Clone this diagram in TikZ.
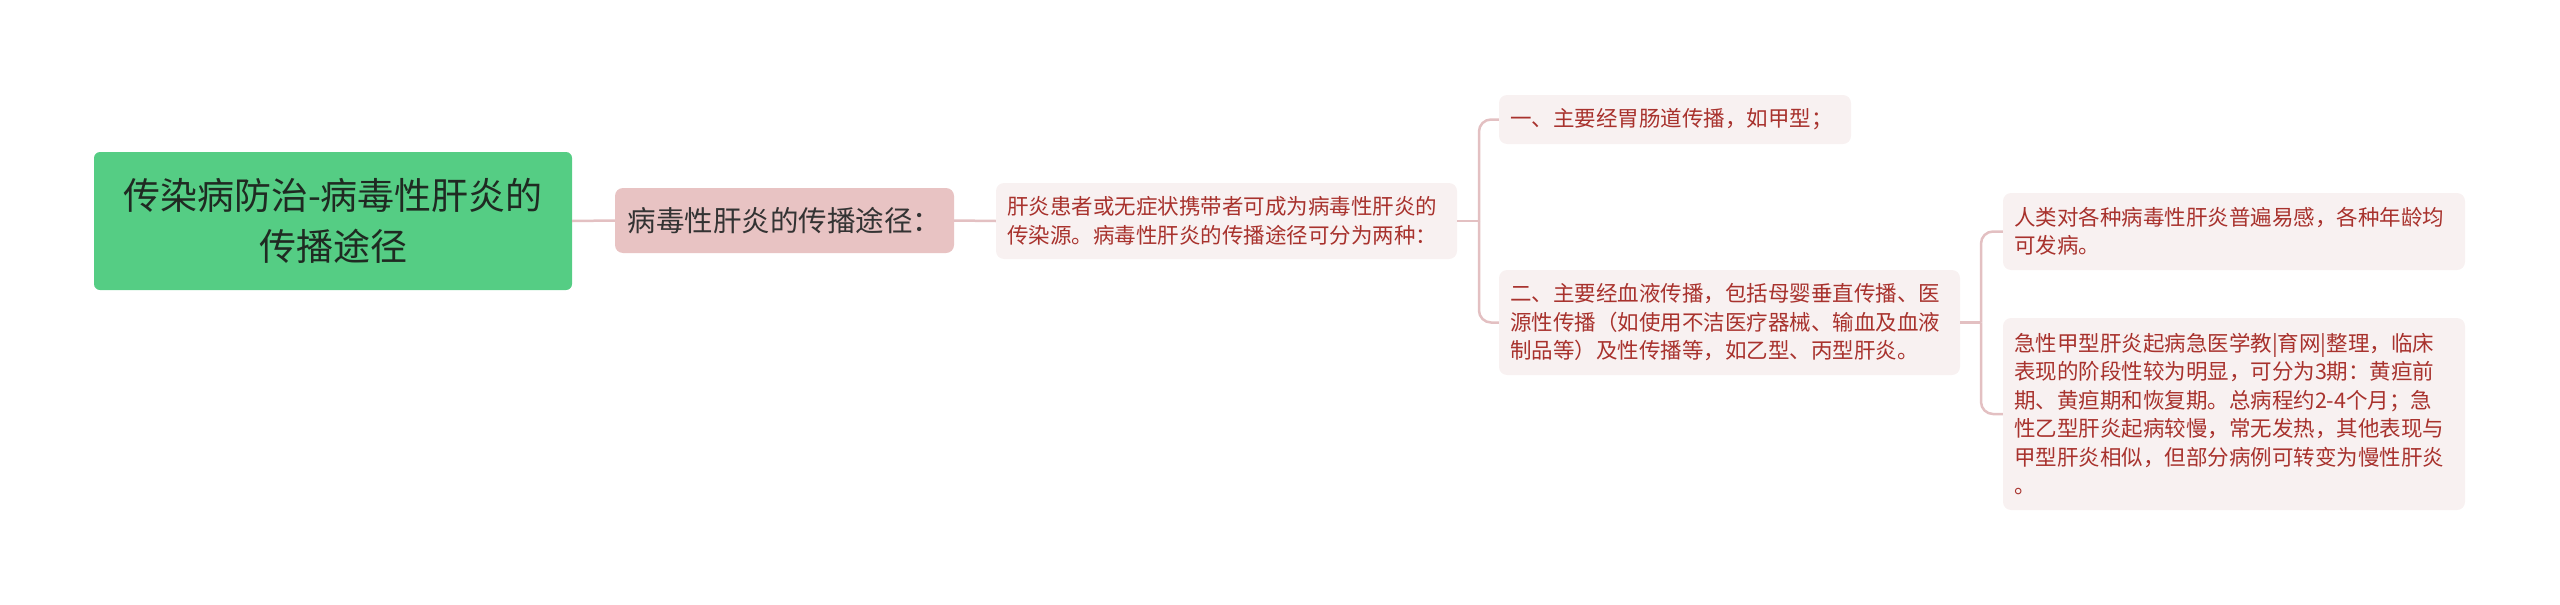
\documentclass[tikz,border=0pt]{standalone}
\usepackage{fontspec}
\setmainfont{Noto Sans CJK SC}
\definecolor{rootfill}{HTML}{55CD84}
\definecolor{subfill}{HTML}{E8C3C3}
\definecolor{leaffill}{HTML}{F8F1F1}
\definecolor{linec}{HTML}{E3C0C2}
\definecolor{leaftext}{HTML}{A8322D}
\definecolor{roottext}{HTML}{1F2A22}
\tikzset{
  rootbox/.style={fill=rootfill, rounded corners=6pt, inner sep=0pt, align=center, text=roottext,
    font=\fontsize{37}{51}\selectfont},
  subbox/.style={fill=subfill, rounded corners=8pt, inner sep=0pt, align=center, text=black!80,
    font=\fontsize{28.5}{34}\selectfont},
  leafbox/.style={fill=leaffill, rounded corners=8pt, inner xsep=11pt, inner ysep=0pt, align=left,
    text=leaftext, font=\fontsize{21.5}{28.5}\selectfont},
  conn/.style={draw=linec, line width=2.5pt},
  bracket/.style={conn, rounded corners=12pt}
}
\begin{document}
\begin{tikzpicture}[x=1pt,y=-1pt]
\useasboundingbox (0,0) rectangle (2560,605);
\node[rootbox, minimum width=478pt, minimum height=138pt] (root) at (333,221)
  {传染病防治-病毒性肝炎的\\传播途径};
\node[subbox, minimum width=339pt, minimum height=65pt] (sub) at (784.5,220.5)
  {病毒性肝炎的传播途径：};
\node[leafbox, text width=439pt, minimum height=76pt] (src) at (1226.5,221)
  {肝炎患者或无症状携带者可成为病毒性肝炎的\\传染源。病毒性肝炎的传播途径可分为两种：};
\node[leafbox, text width=330pt, minimum height=49pt] (r1) at (1675,119.5)
  {一、主要经胃肠道传播，如甲型；};
\node[leafbox, text width=439pt, minimum height=105pt] (r2) at (1729.5,322.5)
  {二、主要经血液传播，包括母婴垂直传播、医\\源性传播（如使用不洁医疗器械、输血及血液\\制品等）及性传播等，如乙型、丙型肝炎。};
\node[leafbox, text width=440pt, minimum height=77pt] (s1) at (2234,231.5)
  {人类对各种病毒性肝炎普遍易感，各种年龄均\\可发病。};
\node[leafbox, text width=440pt, minimum height=192pt] (s2) at (2234,414)
  {急性甲型肝炎起病急医学教|育网|整理，临床\\表现的阶段性较为明显，可分为3期：黄疸前\\期、黄疸期和恢复期。总病程约2-4个月；急\\性乙型肝炎起病较慢，常无发热，其他表现与\\甲型肝炎相似，但部分病例可转变为慢性肝炎\\。};
\draw[conn] (root.east) -- (sub.west);
\draw[conn] (sub.east) -- (src.west);
\coordinate (b1) at (1479,221);
\draw[conn] (src.east) -- (b1);
\draw[bracket] (b1) |- (r1.west);
\draw[bracket] (b1) |- (r2.west);
\coordinate (b2) at (1981,322.5);
\draw[conn] (r2.east) -- (b2);
\draw[bracket] (b2) |- (s1.west);
\draw[bracket] (b2) |- (s2.west);
\end{tikzpicture}
\end{document}
